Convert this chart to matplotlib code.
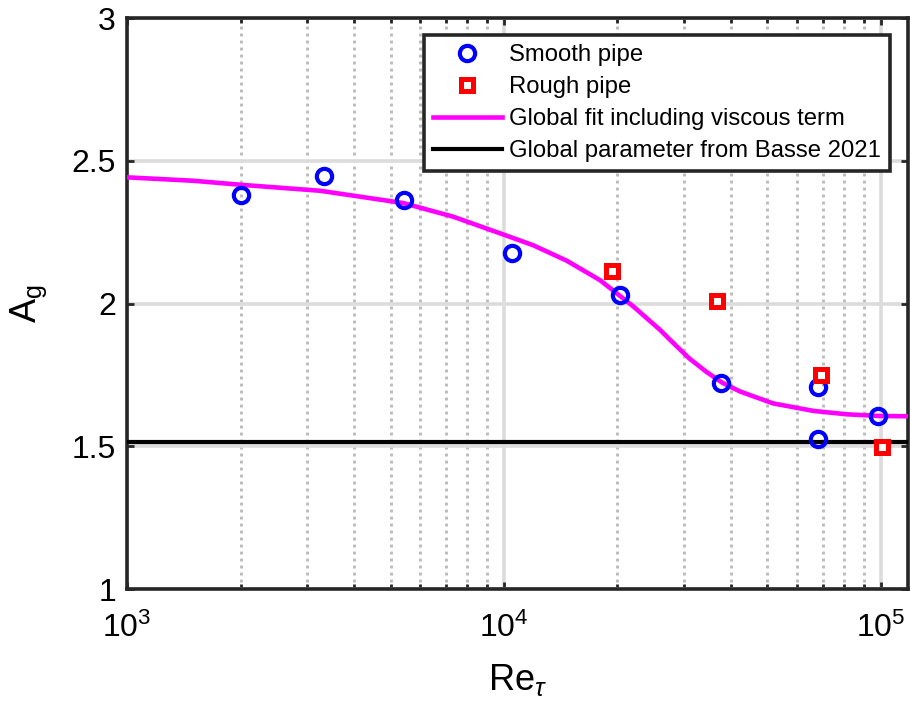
import matplotlib.pyplot as plt
from matplotlib.ticker import FixedLocator, LogLocator, NullFormatter

plt.rcParams['font.family'] = ['Liberation Sans', 'DejaVu Sans']
plt.rcParams['mathtext.fontset'] = 'custom'
plt.rcParams['mathtext.rm'] = 'Liberation Sans'
plt.rcParams['mathtext.it'] = 'Liberation Sans:italic'
plt.rcParams['mathtext.default'] = 'regular'

# smooth pipe points
re_smooth = [2000, 3330, 5430, 10480, 20300, 37600, 68300, 68300, 98400]
ag_smooth = [2.380, 2.447, 2.363, 2.176, 2.030, 1.720, 1.706, 1.527, 1.605]

# rough pipe points
re_rough = [19300, 36700, 69200, 100600]
ag_rough = [2.114, 2.008, 1.748, 1.497]

# global fit curve
re_fit = [1000, 1500, 2000, 3250, 5400, 7340, 9950, 11960, 14670, 17970,
          22030, 25930, 28120, 31000, 34490, 38000, 42270, 51810, 66130, 81100,
          99300, 120000]
ag_fit = [2.442, 2.430, 2.416, 2.395, 2.352, 2.304, 2.242, 2.204, 2.150, 2.082,
          1.990, 1.908, 1.862, 1.808, 1.760, 1.722, 1.692, 1.650, 1.624, 1.612,
          1.606, 1.605]

ag_basse = 1.515  # global parameter from Basse 2021

xlim = [1e3, 1.18e5]
ylim = [1, 3]
yticks = [1, 1.5, 2, 2.5, 3]
ytick_labels = ['1', '1.5', '2', '2.5', '3']

fig = plt.figure(figsize=(9.1, 7.13), dpi=100)
ax = fig.add_axes([0.1396, 0.1739, 0.8582, 0.8008])

ax.plot(re_fit, ag_fit, color='#ff00ff', lw=3.3, zorder=3,
        label='Global fit including viscous term')
ax.axhline(ag_basse, color='black', lw=3, zorder=3,
           label='Global parameter from Basse 2021')
ax.plot(re_smooth, ag_smooth, 'o', ms=11, mfc='none', mec='#0000ff', mew=3,
        zorder=4, label='Smooth pipe')
ax.plot(re_rough, ag_rough, 's', ms=8, mfc='white', mec='#ff0000', mew=3.6,
        zorder=4, label='Rough pipe')

ax.set_xscale('log')
ax.set_xlim(xlim)
ax.set_ylim(ylim)
ax.set_yticks(yticks)
ax.set_yticklabels(ytick_labels)
ax.xaxis.set_major_locator(FixedLocator([1e3, 1e4, 1e5]))
ax.xaxis.set_minor_locator(LogLocator(base=10, subs=range(2, 10), numticks=20))
ax.xaxis.set_minor_formatter(NullFormatter())

# grid: solid majors, dotted minors
ax.grid(True, which='major', color='#dcdcdc', lw=2.6, zorder=0)
ax.grid(True, which='minor', axis='x', color='#bcbcbc', lw=2.1,
        linestyle=(0, (1, 1.4)), zorder=0)
ax.set_axisbelow(True)

for s in ax.spines.values():
    s.set_linewidth(2.6)
    s.set_color('#262626')
ax.tick_params(which='both', direction='in', top=True, right=True,
               color='#262626', width=2)
ax.tick_params(which='major', length=5, labelsize=23)
ax.tick_params(which='minor', length=3.5)
ax.tick_params(axis='x', which='major', pad=17)
ax.tick_params(axis='y', which='major', pad=8)

ax.set_xlabel(r'Re$_{\mathit{\tau}}$', fontsize=26, labelpad=13)
ax.set_ylabel(r'A$_{g}$', fontsize=26, labelpad=16)

h, l = ax.get_legend_handles_labels()
order = [2, 3, 0, 1]
leg = ax.legend([h[i] for i in order], [l[i] for i in order],
                loc='upper right', bbox_to_anchor=(0.977, 0.970),
                fontsize=17.2, fancybox=False, framealpha=1, edgecolor='#262626',
                handlelength=2.9, handletextpad=0.3, labelspacing=0.42,
                borderpad=0.38, borderaxespad=0)
leg.get_frame().set_linewidth(2.6)

fig.savefig('out.png', dpi=100)
